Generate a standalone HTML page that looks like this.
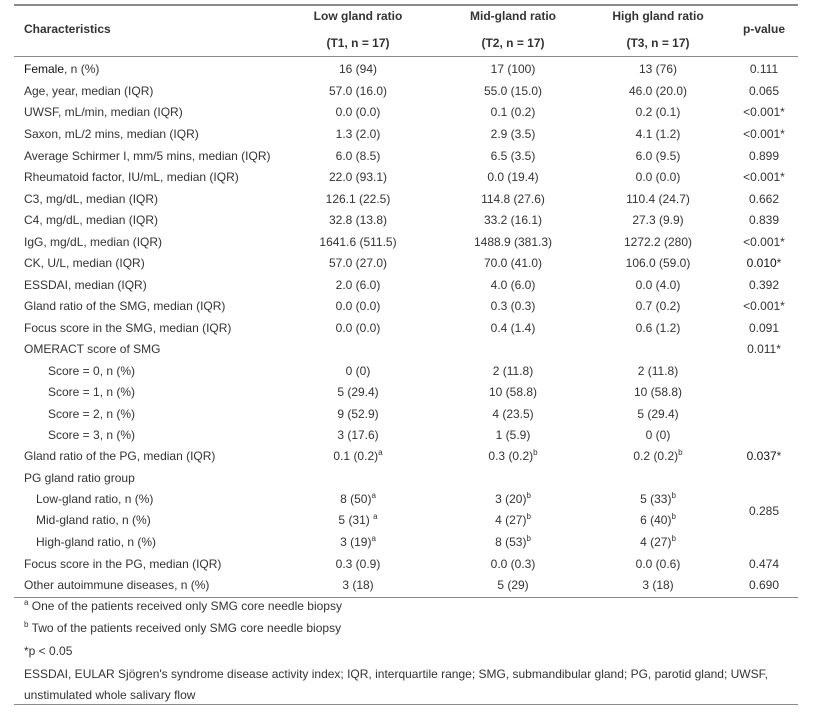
<!DOCTYPE html>
<html><head><meta charset="utf-8"><style>
body{margin:0;width:821px;height:718px;background:#fff;font-family:"Liberation Sans",Arial,sans-serif;font-size:12px;color:#333;position:relative;overflow:hidden}
.t{position:absolute;white-space:nowrap;line-height:14px}
.c{transform:translateX(-50%)}
.h{font-weight:bold;color:#333}
.ln{position:absolute;left:14px;width:784px;height:2px;background:#8a8a8a}
sup{font-size:8px;line-height:0}
.d{color:#111}
</style></head><body>
<div class="ln" style="top:4px"></div>
<div class="ln" style="top:56px;height:1px"></div>
<div class="ln" style="top:597px;height:1px"></div>
<div class="ln" style="top:704px;height:1px"></div>
<div class="t h" style="left:24px;top:22px">Characteristics</div>
<div class="t h c" style="left:358px;top:9px">Low gland ratio</div>
<div class="t h c" style="left:358px;top:36px">(T1, n = 17)</div>
<div class="t h c" style="left:513px;top:9px">Mid-gland ratio</div>
<div class="t h c" style="left:513px;top:36px">(T2, n = 17)</div>
<div class="t h c" style="left:658px;top:9px">High gland ratio</div>
<div class="t h c" style="left:658px;top:36px">(T3, n = 17)</div>
<div class="t h c" style="left:764px;top:22px">p-value</div>
<div id="rows"></div>
<div class="t" style="left:24px;top:599px"><sup>a</sup> One of the patients received only SMG core needle biopsy</div>
<div class="t" style="left:24px;top:621px"><sup>b</sup> Two of the patients received only SMG core needle biopsy</div>
<div class="t" style="left:24px;top:644px">*p &lt; 0.05</div>
<div class="t" style="left:24px;top:667px">ESSDAI, EULAR Sjögren's syndrome disease activity index; IQR, interquartile range; SMG, submandibular gland; PG, parotid gland; UWSF,</div>
<div class="t" style="left:24px;top:688px">unstimulated whole salivary flow</div>
<script>
const labels=["<span class='d'>Female</span>, n (%)","Age, year, median (IQR)","UWSF, mL/min, median (IQR)","Saxon, mL/2 mins, median (IQR)","Average Schirmer I, mm/5 mins, median (IQR)","Rheumatoid factor, IU/mL, median (IQR)","C3, mg/dL, median (IQR)","C4, mg/dL, median (IQR)","IgG, mg/dL, median (IQR)","CK, U/L, median (IQR)","ESSDAI, median (IQR)","Gland ratio of the SMG, median (IQR)","Focus score in the SMG, median (IQR)","OMERACT score of SMG","Score = 0, n (%)","Score = 1, n (%)","Score = 2, n (%)","Score = 3, n (%)","Gland ratio of the PG, median (IQR)","PG gland ratio group","Low-gland ratio, n (%)","Mid-gland ratio, n (%)","High-gland ratio, n (%)","Focus score in the PG, median (IQR)","Other autoimmune diseases, n (%)"];
const indent=[0,0,0,0,0,0,0,0,0,0,0,0,0,0,2,2,2,2,0,0,1,1,1,0,0];
const t1=["16 (94)","57.0 (16.0)","0.0 (0.0)","1.3 (2.0)","6.0 (8.5)","22.0 (93.1)","126.1 (22.5)","32.8 (13.8)","1641.6 (511.5)","57.0 (27.0)","2.0 (6.0)","0.0 (0.0)","0.0 (0.0)","","0 (0)","5 (29.4)","9 (52.9)","3 (17.6)","0.1 (0.2)<sup>a</sup>","","8 (50)<sup>a</sup>","5 (31) <sup>a</sup>","3 (19)<sup>a</sup>","0.3 (0.9)","3 (18)"];
const t2=["17 (100)","55.0 (15.0)","0.1 (0.2)","2.9 (3.5)","6.5 (3.5)","0.0 (19.4)","114.8 (27.6)","33.2 (16.1)","1488.9 (381.3)","70.0 (41.0)","4.0 (6.0)","0.3 (0.3)","0.4 (1.4)","","2 (11.8)","10 (58.8)","4 (23.5)","1 (5.9)","0.3 (0.2)<sup>b</sup>","","3 (20)<sup>b</sup>","4 (27)<sup>b</sup>","8 (53)<sup>b</sup>","0.0 (0.3)","5 (29)"];
const t3=["13 (76)","46.0 (20.0)","0.2 (0.1)","4.1 (1.2)","6.0 (9.5)","0.0 (0.0)","110.4 (24.7)","27.3 (9.9)","1272.2 (280)","106.0 (59.0)","0.0 (4.0)","0.7 (0.2)","0.6 (1.2)","","2 (11.8)","10 (58.8)","5 (29.4)","0 (0)","0.2 (0.2)<sup>b</sup>","","5 (33)<sup>b</sup>","6 (40)<sup>b</sup>","4 (27)<sup>b</sup>","0.0 (0.6)","3 (18)"];
const pv=["0.111","0.065","&lt;0.001*","&lt;0.001*","0.899","&lt;0.001*","0.662","0.839","&lt;0.001*","<span class='d'>0.010</span>*","0.392","&lt;0.001*","0.091","0.011*","","","","","<span class='d'>0.037</span>*","","","0.285","","0.474","0.690"];
const ys=[62,84,105,127,149,170,192,213,235,256,278,299,321,342,364,385,407,428,449,471,492,513,535,557,578];
const root=document.getElementById('rows');
function add(html,x,y,center,name){
 const d=document.createElement('div');
 d.className='t'+(center?' c':'');
 d.style.left=x+'px';d.style.top=y+'px';d.innerHTML=html;
 
 
 root.appendChild(d);
}
labels.forEach((l,i)=>{
 const y=ys[i];
 add(l,24+indent[i]*12,y,false,'row-label-'+i);
 if(t1[i])add(t1[i],358,y,true,'t1-value-'+i);
 if(t2[i])add(t2[i],513,y,true,'t2-value-'+i);
 if(t3[i])add(t3[i],658,y,true,'t3-value-'+i);
 if(pv[i])add(pv[i],764,y+(i==21?-9:0),true,'p-value-'+i);
});
</script>
</body></html>
